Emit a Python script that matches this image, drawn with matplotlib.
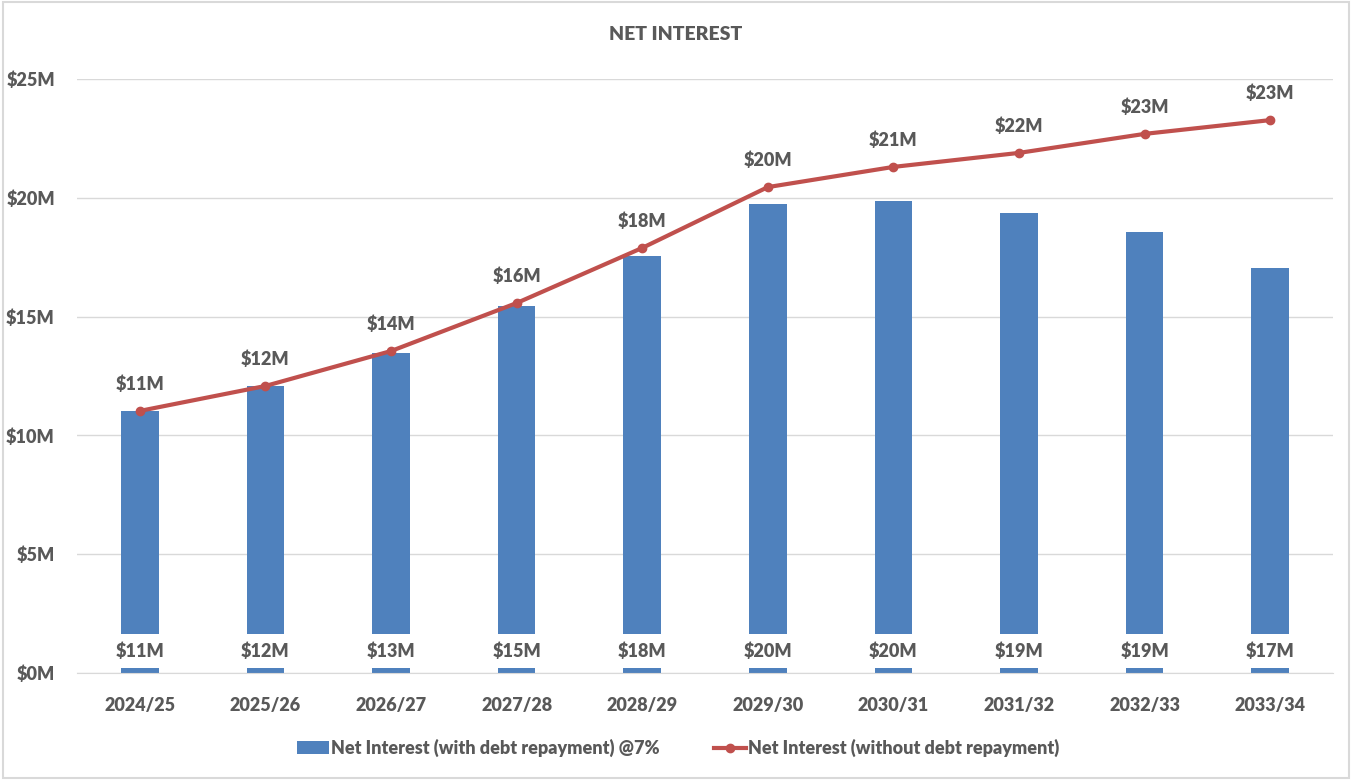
import matplotlib.pyplot as plt
from matplotlib.patches import Rectangle

years = ["2024/25", "2025/26", "2026/27", "2027/28", "2028/29",
         "2029/30", "2030/31", "2031/32", "2032/33", "2033/34"]
with_repay = [11.03, 12.08, 13.45, 15.45, 17.55, 19.74, 19.87, 19.36, 18.56, 17.05]
without_repay = [11.03, 12.08, 13.55, 15.57, 17.89, 20.45, 21.30, 21.89, 22.69, 23.27]
yticks = [0, 5, 10, 15, 20, 25]

blue = "#4F81BD"
red = "#C0504D"
grey = "#595959"
W = "heavy"

plt.rcParams['font.family'] = ['Lato', 'DejaVu Sans']

fig = plt.figure(figsize=(13.52, 7.8), dpi=100)
ax = fig.add_axes([77 / 1352, 1 - 673 / 780, (1333 - 77) / 1352, (673 - 79) / 780])

x = list(range(len(years)))
bars = ax.bar(x, with_repay, width=0.3, color=blue, zorder=2,
              label="Net Interest (with debt repayment) @7%")
line, = ax.plot(x, without_repay, color=red, linewidth=3, marker="o", markersize=6,
                zorder=3, label="Net Interest (without debt repayment)")

for i in x:
    ax.annotate("$%dM" % round(with_repay[i]), xy=(i, 0), xytext=(0, 22),
                textcoords="offset pixels", ha="center", va="center",
                fontsize=13, fontweight=W, color=grey, zorder=4,
                bbox=dict(boxstyle="square,pad=0.45", facecolor="white", edgecolor="none"))
    ax.annotate("$%dM" % round(without_repay[i]), xy=(i, without_repay[i]), xytext=(0, 27),
                textcoords="offset pixels", ha="center", va="center",
                fontsize=13, fontweight=W, color=grey, zorder=4)

ax.set_xlim(-0.5, len(years) - 0.5)
ax.set_ylim(0, 25)
ax.set_yticks(yticks)
ax.set_yticklabels(["$%dM" % v for v in yticks])
ax.set_xticks(x)
ax.set_xticklabels(years)
for lab in ax.get_xticklabels() + ax.get_yticklabels():
    lab.set_fontweight(W)
    lab.set_fontsize(13)
    lab.set_color(grey)
ax.tick_params(axis="both", length=0)
ax.tick_params(axis="x", pad=17)
ax.tick_params(axis="y", pad=16)

ax.grid(axis="y", color="#D9D9D9", linewidth=1, zorder=0)
for s in ["top", "right", "left"]:
    ax.spines[s].set_visible(False)
ax.spines["bottom"].set_color("#D9D9D9")

fig.text(0.5, 1 - 34 / 780, "NET INTEREST", ha="center", va="center",
         fontsize=14, fontweight=W, color=grey)

leg = fig.legend([bars, line], [bars.get_label(), line.get_label()],
                 loc="center", bbox_to_anchor=(0.5015, 1 - 748 / 780), ncol=2, frameon=False,
                 prop={"size": 13, "weight": W}, handlelength=1.8, handletextpad=0.1,
                 columnspacing=3.0)
for t in leg.get_texts():
    t.set_color(grey)

fig.patches.append(Rectangle((0.002, 0.002), 0.996, 0.996, transform=fig.transFigure,
                             fill=False, edgecolor="#D9D9D9", linewidth=1.5))

fig.savefig("out.png", dpi=100)
